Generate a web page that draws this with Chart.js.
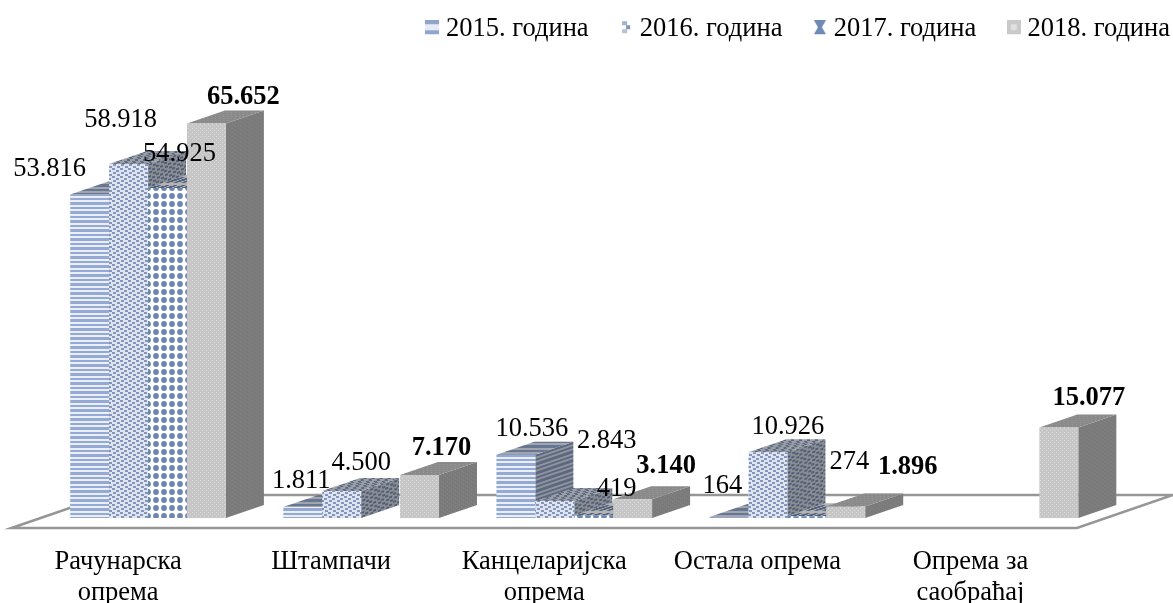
<!DOCTYPE html>
<html>
<head>
<meta charset="utf-8">
<title>Опрема</title>
<script src="https://cdn.jsdelivr.net/npm/chart.js@4"></script>
<style>
    html, body { margin: 0; padding: 0; background: #fff; overflow: hidden; }
    canvas { display: block; }
</style>
</head>
<body>
<canvas id="equipmentChart" width="1173" height="603"></canvas>
<script>
// Chart data
const categories = [
    ['Рачунарска', 'опрема'],
    'Штампачи',
    ['Канцеларијска', 'опрема'],
    'Остала опрема',
    ['Опрема за', 'саобраћај']
];
const seriesNames = ['2015. година', '2016. година', '2017. година', '2018. година'];
const values2015 = [53816, 1811, 10536, 164, null];
const values2016 = [58918, 4500, 2843, 10926, null];
const values2017 = [54925, null, 419, 274, null];
const values2018 = [65652, 7170, 3140, 1896, 15077];

// Hand placed label nudges from the top of each bar [dx, dy]
const labelNudges = [
    [[-40, -26], [-1.5, -26], [16, -26], [-6.5, -31], null],
    [[-8, -44], [19.5, -28], [52, -60], [20, -25], null],
    [[12, -34], null, [23, -26], [42.5, -54], null],
    [[37, -26], [22, -27], [33.5, -33], [62, -39], [30, -29]]
];

const FONT_FAMILY = '"Liberation Serif", "Times New Roman", serif';
const FONT_SIZE = 26.5;
const DEPTH_X = 38;
const DEPTH_Y = 13;
const GROUND_COLOR = '#969696';

function makeTile(w, h, paint) {
    const tile = document.createElement('canvas');
    tile.width = w;
    tile.height = h;
    paint(tile.getContext('2d'));
    return tile;
}

function toPattern(tile) {
    return document.createElement('canvas').getContext('2d').createPattern(tile, 'repeat');
}

// Fill patterns
const stripeTile = makeTile(4, 9, c => {
    c.fillStyle = '#e9eef7';
    c.fillRect(0, 0, 4, 9);
    c.fillStyle = '#94a9d3';
    c.fillRect(0, 0, 4, 2);
    c.fillRect(0, 4, 4, 3);
});
const speckleTile = makeTile(8, 8, c => {
    c.fillStyle = '#dfe5f0';
    c.fillRect(0, 0, 8, 8);
    c.fillStyle = '#8496bb';
    c.fillRect(0, 0, 3, 2);
    c.fillRect(4, 2, 3, 2);
    c.fillRect(1, 4, 3, 2);
    c.fillRect(5, 6, 3, 2);
});
const dotTile = makeTile(8, 8, c => {
    c.fillStyle = '#ffffff';
    c.fillRect(0, 0, 8, 8);
    c.fillStyle = '#6c86b2';
    c.beginPath();
    c.arc(4, 4, 2.9, 0, Math.PI * 2);
    c.fill();
});
const greyTile = makeTile(4, 4, c => {
    c.fillStyle = '#c6c6c6';
    c.fillRect(0, 0, 4, 4);
    c.fillStyle = '#dadada';
    c.fillRect(0, 0, 1, 1);
    c.fillRect(2, 2, 1, 1);
});
const seriesPatterns = [stripeTile, speckleTile, dotTile, greyTile].map(toPattern);

// Legend markers, the blank rows at the bottom lift them a little over the text centre
const legendMarkers = [
    makeTile(14, 18, c => {
        c.fillStyle = '#e6ebf5';
        c.fillRect(0, 4, 14, 6);
        c.fillStyle = '#8fa5d0';
        c.fillRect(0, 0, 14, 4);
        c.fillRect(0, 10, 14, 4);
    }),
    makeTile(14, 18, c => {
        c.fillStyle = '#9fb0ce';
        c.fillRect(3, 1, 5, 4);
        c.fillStyle = '#7f93ba';
        c.fillRect(7, 5, 4, 4);
        c.fillStyle = '#b4c1da';
        c.fillRect(3, 9, 5, 4);
    }),
    makeTile(14, 18, c => {
        c.fillStyle = '#6f8ab5';
        c.beginPath();
        c.moveTo(1, 0);
        c.lineTo(13, 0);
        c.lineTo(9, 7);
        c.lineTo(13, 14);
        c.lineTo(1, 14);
        c.lineTo(5, 7);
        c.closePath();
        c.fill();
    }),
    makeTile(14, 18, c => {
        c.fillStyle = '#c9c9c9';
        c.fillRect(0, 0, 14, 14);
        c.fillStyle = '#e0e0e0';
        c.fillRect(4, 4, 6, 6);
    })
];

function formatValue(value) {
    return String(value).replace(/\B(?=(\d{3})+$)/g, '.');
}

// Fill a sheared face with the pattern and then darken it
function fillFace(ctx, pattern, shade, rect) {
    ctx.fillStyle = pattern;
    ctx.fillRect(rect[0], rect[1], rect[2], rect[3]);
    ctx.fillStyle = shade;
    ctx.fillRect(rect[0], rect[1], rect[2], rect[3]);
}

function drawBarDepth(ctx, bar, pattern) {
    const { x, y, base, width } = bar.getProps(['x', 'y', 'base', 'width'], true);
    const left = x - width / 2;
    const right = x + width / 2;

    // Right side
    ctx.save();
    ctx.transform(1, -DEPTH_Y / DEPTH_X, 0, 1, right, 0);
    fillFace(ctx, pattern, 'rgba(0,0,0,0.38)', [0, y, DEPTH_X, base - y]);
    ctx.restore();

    // Top
    ctx.save();
    ctx.transform(1, 0, -DEPTH_X / DEPTH_Y, 1, left + y * DEPTH_X / DEPTH_Y, 0);
    fillFace(ctx, pattern, 'rgba(0,0,0,0.3)', [0, y - DEPTH_Y, width, DEPTH_Y]);
    ctx.restore();
}

function drawGround(chart) {
    const ctx = chart.ctx;
    const { left, right } = chart.chartArea;
    const zero = chart.scales.y.getPixelForValue(0);
    ctx.save();
    ctx.strokeStyle = GROUND_COLOR;
    ctx.lineWidth = 2.5;
    ctx.beginPath();
    ctx.moveTo(left - 30, zero + 10);
    ctx.lineTo(left + 66, zero - 23);
    ctx.lineTo(right + 66, zero - 23);
    ctx.lineTo(right - 30, zero + 10);
    ctx.closePath();
    ctx.stroke();
    ctx.restore();
}

// Draws the floor and bar depth, and paints datasets left to right
const depthPlugin = {
    id: 'depthPlugin',
    beforeDatasetsDraw(chart) {
        drawGround(chart);
        chart.data.datasets.forEach((dataset, i) => {
            const meta = chart.getDatasetMeta(i);
            meta.data.forEach((bar, j) => {
                if (dataset.data[j] !== null) drawBarDepth(chart.ctx, bar, dataset.backgroundColor);
            });
            meta.controller.draw();
        });
        return false;
    }
};

const valueLabelPlugin = {
    id: 'valueLabelPlugin',
    afterDraw(chart) {
        const ctx = chart.ctx;
        ctx.save();
        ctx.fillStyle = '#000';
        ctx.textAlign = 'center';
        ctx.textBaseline = 'middle';
        chart.data.datasets.forEach((dataset, i) => {
            ctx.font = `${i === 3 ? 'bold ' : ''}${FONT_SIZE}px ${FONT_FAMILY}`;
            chart.getDatasetMeta(i).data.forEach((bar, j) => {
                const value = dataset.data[j];
                if (value === null) return;
                const nudge = labelNudges[i][j];
                ctx.fillText(formatValue(value), bar.x + nudge[0], bar.y + nudge[1]);
            });
        });
        ctx.restore();
    }
};

const allSeries = [values2015, values2016, values2017, values2018];

new Chart(document.getElementById('equipmentChart').getContext('2d'), {
    type: 'bar',
    data: {
        labels: categories,
        datasets: seriesNames.map((name, i) => ({
            label: name,
            data: allSeries[i],
            backgroundColor: seriesPatterns[i],
            borderWidth: 0,
            barPercentage: 1,
            categoryPercentage: 0.7305
        }))
    },
    options: {
        responsive: false,
        animation: false,
        layout: {
            padding: { left: 41.5, right: -34, top: -21, bottom: 0 }
        },
        plugins: {
            tooltip: { enabled: false },
            legend: {
                position: 'top',
                align: 'end',
                labels: {
                    color: '#000',
                    font: { family: FONT_FAMILY, size: FONT_SIZE },
                    padding: 37,
                    boxWidth: 1,
                    usePointStyle: true,
                    pointStyleWidth: 1,
                    generateLabels: chart => chart.data.datasets.map((dataset, i) => ({
                        text: dataset.label,
                        fontColor: '#000',
                        pointStyle: legendMarkers[i],
                        datasetIndex: i
                    }))
                }
            }
        },
        scales: {
            x: {
                grid: { display: false },
                border: { display: false },
                afterFit: scale => { scale.height = 85; },
                ticks: {
                    color: '#000',
                    font: { family: FONT_FAMILY, size: FONT_SIZE, lineHeight: 1.17 },
                    padding: 20.5,
                    labelOffset: -30,
                    autoSkip: false,
                    maxRotation: 0,
                    minRotation: 0
                }
            },
            y: {
                position: 'right',
                min: 0,
                max: 77450,
                afterFit: scale => { scale.width = 100; },
                grid: { display: false },
                border: { display: false },
                ticks: { display: false }
            }
        }
    },
    plugins: [depthPlugin, valueLabelPlugin]
});
</script>
</body>
</html>
